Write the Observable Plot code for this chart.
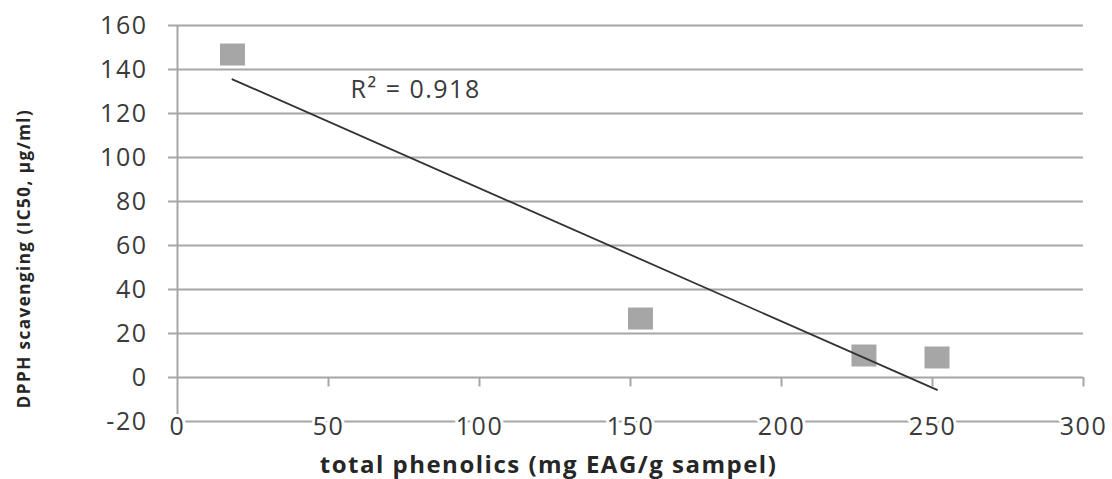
<!DOCTYPE html>
<html><head><meta charset="utf-8">
<script src="https://cdn.jsdelivr.net/npm/d3@7"></script>
<script src="https://cdn.jsdelivr.net/npm/@observablehq/plot@0.6"></script>
<style>body{margin:0;background:#fff;} #chart svg{display:block;}</style>
</head><body><div id="chart"></div>
<script>
// Data
const phenolics = [18.2, 153.3, 227.3, 251.5];      // total phenolics (mg EAG/g sampel)
const ic50 = [146.8, 26.8, 10.0, 9.1];              // DPPH scavenging IC50 (µg/ml)
const xTicks = [0, 50, 100, 150, 200, 250, 300];
const yTicks = [-20, 0, 20, 40, 60, 80, 100, 120, 140, 160];
const xLabel = "total phenolics (mg EAG/g sampel)";
const yLabel = "DPPH scavenging (IC50, µg/ml)";
const r2Label = ["R² = 0.918"];
const r2X = [57.3];
const r2Y = [130.5];

const data = phenolics.map((x, i) => ({x, y: ic50[i]}));
const r2Data = r2Label.map((t, i) => ({t, x: r2X[i], y: r2Y[i]}));

const gray = "#a6a6a6";
const textColor = "#3a3a3a";
const rectSymbol = {draw(ctx) { ctx.rect(-12.5, -11, 25, 22); }};

const chart = Plot.plot({
  width: 1112, height: 479,
  marginLeft: 177, marginRight: 29, marginTop: 25, marginBottom: 58,
  x: {domain: [0, 300], axis: null},
  y: {domain: [-20, 160], axis: null},
  style: {fontFamily: "'Open Sans', sans-serif", background: "#fff", letterSpacing: "1.5px"},
  marks: [
    Plot.ruleY(yTicks, {stroke: gray, strokeWidth: 2}),
    Plot.axisY(yTicks, {tickSize: 9, tickPadding: 21, tickFormat: d => String(d), stroke: gray, strokeWidth: 2, fill: textColor, fontSize: 25, label: null}),
    Plot.ruleX([0], {stroke: gray, strokeWidth: 2}),
    Plot.ruleX(xTicks.filter(d => d > 0), {x: d => d, y1: 0, y2: -4.3, stroke: gray, strokeWidth: 2}),
    Plot.text(xTicks, {x: d => d, y: -20, dy: 5, text: d => String(d), fontSize: 25, fill: textColor, stroke: "#fff", strokeWidth: 6}),
    Plot.dot(data, {x: "x", y: "y", symbol: rectSymbol, fill: gray, r: 12}),
    Plot.linearRegressionY(data, {x: "x", y: "y", ci: 0, stroke: "#333", strokeWidth: 1.8}),
    Plot.text(r2Data, {x: "x", y: "y", text: "t", textAnchor: "start", fontSize: 25, fill: textColor}),
    Plot.text([xLabel], {frameAnchor: "bottom", textAnchor: "middle", dx: -82, dy: 51, lineAnchor: "bottom", fontSize: 24, fontWeight: "bold", fill: "#262626"}),
    Plot.text([yLabel], {frameAnchor: "left", textAnchor: "middle", rotate: -90, dx: -153, dy: 35, fontSize: 17, fontWeight: "bold", fill: "#262626"})
  ]
});
document.getElementById("chart").appendChild(chart);
</script>
</body></html>
